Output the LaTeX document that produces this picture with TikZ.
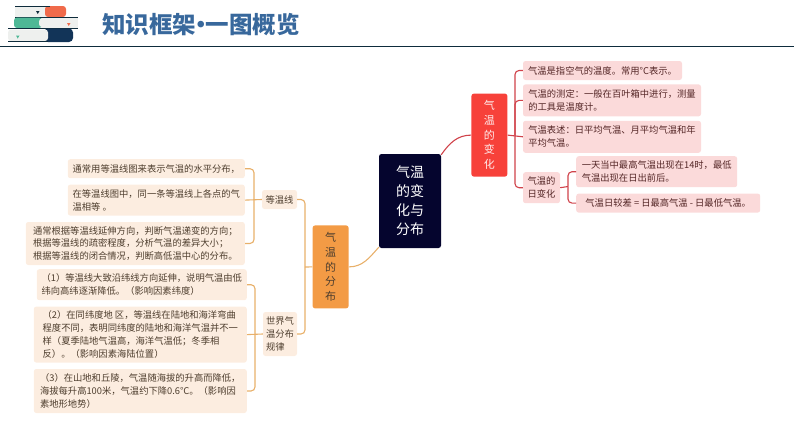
\documentclass[tikz,border=0pt]{standalone}
\usepackage{fontspec}
\setmainfont{Noto Sans CJK SC}
\usepackage{xcolor}
\usetikzlibrary{positioning}
\definecolor{MapNavy}{RGB}{5,5,46}
\definecolor{MapRed}{RGB}{247,65,58}
\definecolor{MapRedLight}{RGB}{251,218,218}
\definecolor{MapRedLine}{RGB}{208,66,74}
\definecolor{MapRedText}{RGB}{84,38,38}
\definecolor{MapOrange}{RGB}{243,155,69}
\definecolor{MapOrangeLight}{RGB}{252,237,224}
\definecolor{MapOrangeLine}{RGB}{232,176,106}
\definecolor{MapOrangeText}{RGB}{78,62,46}
\definecolor{TitleBlue}{RGB}{56,104,156}
\definecolor{RuleDark}{RGB}{14,44,60}
\definecolor{BookRed}{RGB}{240,106,74}
\definecolor{BookGreen}{RGB}{78,184,150}
\definecolor{BookNavy}{RGB}{18,52,88}
\definecolor{BookPage}{RGB}{238,240,238}

\begin{document}
\begin{tikzpicture}[
  x=1pt, y=1pt,
  box/.style={rounded corners=2.5pt, inner xsep=0pt, inner ysep=0pt, align=left},
  rootbox/.style={box, fill=MapNavy, text=white, align=center, minimum width=62pt, minimum height=94pt, font=\fontsize{14}{19}\selectfont},
  redmain/.style={box, fill=MapRed, text=white!92!red, align=center, minimum width=36pt, minimum height=83pt, font=\fontsize{11}{14.7}\selectfont},
  orangemain/.style={box, fill=MapOrange, text=MapOrangeText, align=center, minimum width=36pt, minimum height=83pt, font=\fontsize{11}{14.7}\selectfont},
  redleaf/.style={box, fill=MapRedLight, text=MapRedText, font=\fontsize{9.3}{12.8}\selectfont},
  orangeleaf/.style={box, fill=MapOrangeLight, text=MapOrangeText, font=\fontsize{9.3}{12.8}\selectfont},
  redline/.style={draw=MapRedLine, line width=1.1pt, rounded corners=4pt},
  orangeline/.style={draw=MapOrangeLine, line width=1.1pt, rounded corners=4pt},
  redcurve/.style={draw=MapRedLine, line width=1.1pt},
  orangecurve/.style={draw=MapOrangeLine, line width=1.1pt}
]
\useasboundingbox (0,0) rectangle (794,-447);

% header
\fill[RuleDark] (0,-45.8) rectangle (794,-47.4);
\node[inner sep=0pt, anchor=west, text=TitleBlue, font=\fontsize{23.5}{26}\selectfont\bfseries] (title) at (102,-24.5) {知识框架\kern-7pt•\kern-7pt一图概览};

% books
\fill[BookPage] (15,-6.5) rectangle (47,-16.5);
\fill[BookRed, rounded corners=3pt] (45,-6) rectangle (66,-17);
\draw[RuleDark, line width=0.7pt] (15,-6) -- (50,-6) (15,-17) -- (50,-17);
\fill[RuleDark] (36,-11) -- (39.5,-11) -- (37.75,-14) -- cycle;
\fill[BookPage] (40,-18) rectangle (78,-27.5);
\fill[BookGreen, rounded corners=3pt] (14,-17.5) rectangle (42,-28) ;
\fill[BookPage, rounded corners=3pt] (39,-18.5) rectangle (60,-27);
\draw[RuleDark, line width=0.7pt] (40,-17.5) -- (78,-17.5) (40,-28) -- (78,-28);
\fill[BookRed] (67,-23) -- (70.5,-23) -- (68.75,-26) -- cycle;
\fill[BookNavy, rounded corners=4pt] (44,-28.5) rectangle (73,-42);
\fill[BookPage, rounded corners=3pt] (8,-29.5) rectangle (48,-41);
\draw[RuleDark, line width=0.7pt] (8,-28.5) -- (48,-28.5) (8,-41.5) -- (48,-41.5);
\fill[BookGreen] (16,-35.5) -- (19.5,-35.5) -- (17.75,-38.5) -- cycle;

% main nodes
\node[rootbox] (root) at (410,-201) {气温\\的变\\化与\\分布};
\node[redmain, above right=-23pt and 30pt of root.north east, anchor=south west] (bian) {气\\温\\的\\变\\化};
\node[orangemain, below left=-23pt and 30pt of root.south west, anchor=north east] (fen) {气\\温\\的\\分\\布};

% right side
\node[redleaf, minimum width=159pt, minimum height=19pt] (jia) at (602.5,-70.5) {气温是指空气的温度。常用°C表示。};
\node[redleaf, minimum width=178pt, minimum height=32pt, below=4pt of jia.south west, anchor=north west] (ce) {气温的测定：一般在百叶箱中进行，测量\\的工具是温度计。};
\node[redleaf, minimum width=178pt, minimum height=32pt, below=4pt of ce] (biao) {气温表述：日平均气温、月平均气温和年\\平均气温。};
\node[redleaf, minimum width=37pt, minimum height=31pt, below=19pt of biao.south west, anchor=north west] (ri) {气温的\\日变化};
\node[redleaf, minimum width=161pt, minimum height=31pt, anchor=north west] (zui) at (576,-156) {一天当中最高气温出现在14时，最低\\气温出现在日出前后。};
\node[redleaf, minimum width=184pt, minimum height=19pt, below=6pt of zui.south west, anchor=north west] (cha) {气温日较差 = 日最高气温 - 日最低气温。};

% left side
\node[orangeleaf, minimum width=35pt, minimum height=19pt] (dwx) at (279.5,-199.5) {等温线};
\node[orangeleaf, minimum width=34pt, minimum height=44pt] (sj) at (280,-334) {世界气\\温分布\\规律};
\node[orangeleaf, minimum width=177pt, minimum height=19pt, anchor=north east] (da) at (245,-159) {通常用等温线图来表示气温的水平分布，};
\node[orangeleaf, minimum width=177pt, minimum height=31pt, below=6pt of da] (db) {在等温线图中，同一条等温线上各点的气\\温相等 。};
\node[orangeleaf, minimum width=219pt, minimum height=43pt, below=6pt of db.south east, anchor=north east] (dc) {通常根据等温线延伸方向，判断气温递变的方向；\\根据等温线的疏密程度，分析气温的差异大小；\\根据等温线的闭合情况，判断高低温中心的分布。};
\node[orangeleaf, minimum width=210pt, minimum height=31pt, anchor=north east] (sa) at (247,-269) {（1）等温线大致沿纬线方向延伸，说明气温由低\\纬向高纬逐渐降低。（影响因素纬度）};
\node[orangeleaf, minimum width=213pt, minimum height=56pt, below=6pt of sa.south east, anchor=north east] (sb) {（2）在同纬度地 区，等温线在陆地和海洋弯曲\\程度不同，表明同纬度的陆地和海洋气温并不一\\样（夏季陆地气温高，海洋气温低；冬季相\\反）。（影响因素海陆位置）};
\node[orangeleaf, minimum width=213pt, minimum height=44pt, below=6pt of sb] (sc) {（3）在山地和丘陵，气温随海拔的升高而降低，\\海拔每升高100米，气温约下降0.6℃。（影响因\\素地形地势）};

% curved links
\draw[redcurve] ([yshift=-1pt]root.north east) to[out=55,in=180] (bian.west);
\draw[orangecurve] (fen.east) to[out=0,in=228] ([yshift=1pt]root.south west);

% brackets
\coordinate (redstem) at (515,-135.5);
\draw[redline] (bian.east) -- (biao.west);
\draw[redline] (jia.west) -| (redstem);
\draw[redline] (ce.west) -| (redstem);
\draw[redline] (ri.west) -| (redstem);
\coordinate (ristem) at (568,-186.5);
\draw[redline] (ri.east) -- (ristem);
\draw[redline] (zui.west) -| (ristem);
\draw[redline] (cha.west) -| (ristem);

\coordinate (fenstem) at (305,-267);
\draw[orangeline] (fen.west) -- (fenstem);
\draw[orangeline] (dwx.east) -| (fenstem);
\draw[orangeline] (sj.east) -| (fenstem);
\coordinate (dwxstem) at (254,-199.5);
\draw[orangeline] (dwx.west) -- (db.east);
\draw[orangeline] (da.east) -| (dwxstem);
\draw[orangeline] (dc.east) -| (dwxstem);
\coordinate (sjstem) at (255,-334);
\draw[orangeline] (sj.west) -- (sb.east);
\draw[orangeline] (sa.east) -| (sjstem);
\draw[orangeline] (sc.east) -| (sjstem);
\end{tikzpicture}
\end{document}
